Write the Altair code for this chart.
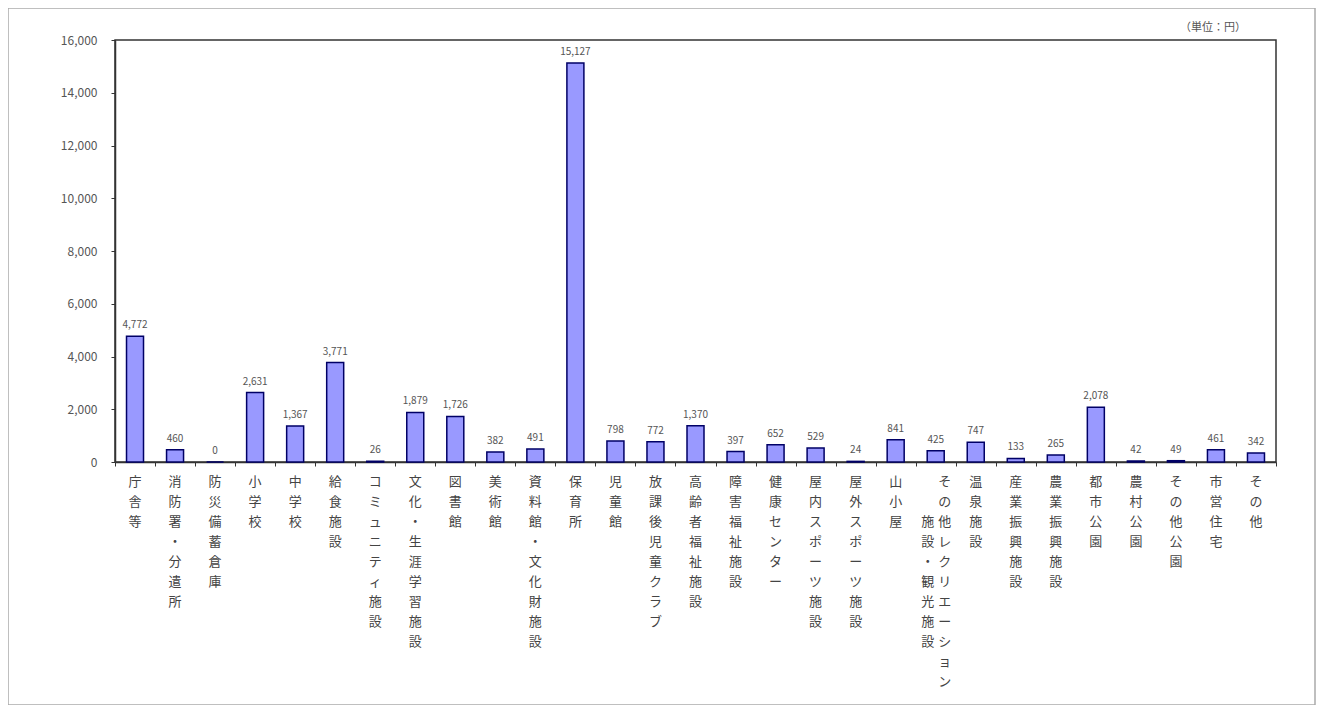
import altair as alt
import pandas as pd

categories = [
    "庁舎等", "消防署・分遣所", "防災備蓄倉庫", "小学校", "中学校", "給食施設",
    "コミュニティ施設", "文化・生涯学習施設", "図書館", "美術館", "資料館・文化財施設",
    "保育所", "児童館", "放課後児童クラブ", "高齢者福祉施設", "障害福祉施設",
    "健康センター", "屋内スポーツ施設", "屋外スポーツ施設", "山小屋",
    "その他レクリエーション|施設・観光施設", "温泉施設", "産業振興施設", "農業振興施設",
    "都市公園", "農村公園", "その他公園", "市営住宅", "その他",
]
values = [
    4772, 460, 0, 2631, 1367, 3771, 26, 1879, 1726, 382, 491,
    15127, 798, 772, 1370, 397, 652, 529, 24, 841,
    425, 747, 133, 265, 2078, 42, 49, 461, 342,
]
y_ticks = [0, 2000, 4000, 6000, 8000, 10000, 12000, 14000, 16000]
unit_label = "（単位：円）"

df = pd.DataFrame({"cat": categories, "value": values})

W, H = 1161, 422
FONT = "Noto Sans CJK JP"

x_enc = alt.X("cat:N", sort=categories, title=None,
              scale=alt.Scale(paddingInner=0, paddingOuter=0),
              axis=alt.Axis(labels=False, tickBand="extent", tickSize=4,
                            tickColor="#333", domainColor="#333", domainWidth=1.5))
y_enc = alt.Y("value:Q", title=None,
              scale=alt.Scale(domain=[0, 16000], nice=False),
              axis=alt.Axis(values=y_ticks, labelExpr="format(datum.value, ',')",
                            grid=False, tickSize=4,
                            tickColor="#333", domainColor="#333", domainWidth=1.5,
                            labelPadding=14, labelFontSize=12, labelColor="#555",
                            labelFont=FONT))

base = alt.Chart(df)

bars = base.mark_bar(size=17, fill="#9999ff", stroke="#000066", strokeWidth=1.5).encode(
    x=x_enc, y=y_enc)

vlabels = base.mark_text(baseline="bottom", dy=-6, fontSize=10, color="#555",
                         font=FONT).encode(
    x=alt.X("cat:N", sort=categories),
    y=alt.Y("value:Q"),
    text=alt.Text("value:Q", format=","))

lab = base.transform_calculate(
    parts="split(datum.cat, '|')"
).transform_calculate(
    col1="split(datum.parts[0], '')",
    col2="length(datum.parts) > 1 ? split(datum.parts[1], '') : ''",
    two="length(datum.parts) > 1 ? 1 : 0",
)

lab_kw = dict(baseline="top", align="center", fontSize=13, lineHeight=20,
              color="#444", font=FONT)

lab_single = lab.transform_filter("datum.two == 0").mark_text(**lab_kw).encode(
    x=alt.X("cat:N", sort=categories), y=alt.value(H + 14), text="col1:N")

lab_right = lab.transform_filter("datum.two == 1").mark_text(dx=9, **lab_kw).encode(
    x=alt.X("cat:N", sort=categories), y=alt.value(H + 14), text="col1:N")

lab_left = lab.transform_filter("datum.two == 1").mark_text(dx=-8, dy=40, **lab_kw).encode(
    x=alt.X("cat:N", sort=categories), y=alt.value(H + 14), text="col2:N")

unit = alt.Chart(pd.DataFrame({"t": [unit_label]})).mark_text(
    align="right", baseline="middle", fontSize=11, color="#555", font=FONT).encode(
    x=alt.value(W - 30), y=alt.value(-12), text="t:N")

frame = alt.Chart(pd.DataFrame({"a": [1]})).mark_rect(
    filled=False, stroke="#aaa", strokeWidth=1.5).encode(
    x=alt.value(-107), x2=alt.value(W + 39), y=alt.value(-32), y2=alt.value(H + 243))

chart = alt.layer(bars, vlabels, lab_single, lab_right, lab_left, unit, frame).properties(
    width=W, height=H,
    background="white",
    padding={"left": 107, "top": 32, "right": 40, "bottom": 243},
    autosize=alt.AutoSizeParams(type="none"),
).configure_view(stroke="#333", strokeWidth=1.5)

chart.save("out.html", embed_options={"renderer": "svg", "actions": False})
